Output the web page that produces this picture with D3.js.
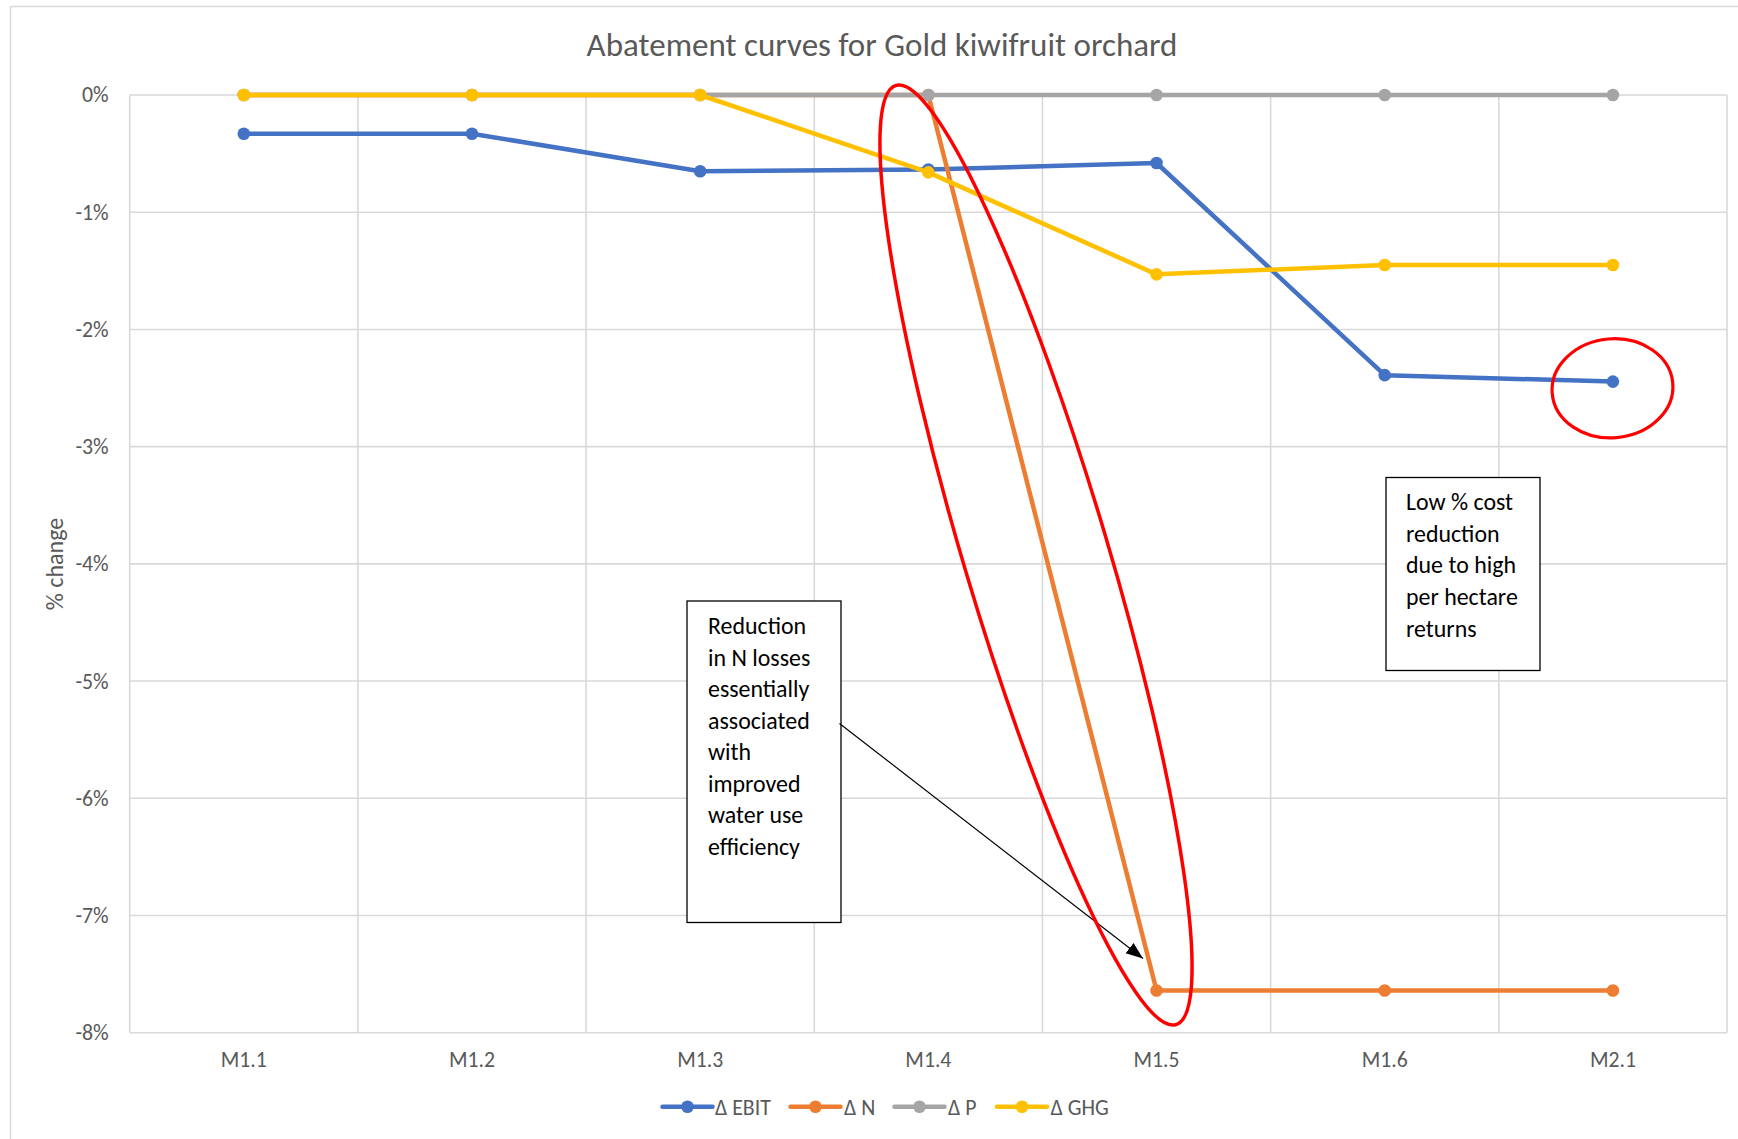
<!DOCTYPE html>
<html><head><meta charset="utf-8">
<script src="https://cdn.jsdelivr.net/npm/d3@7/dist/d3.min.js"></script>
<style>body{margin:0;background:#fff}svg{display:block}</style>
</head><body>
<svg id="chart" width="1738" height="1139"></svg>
<script>
// ---------- data ----------
const categories = ["M1.1", "M1.2", "M1.3", "M1.4", "M1.5", "M1.6", "M2.1"];
const ebitValues = [-0.33, -0.33, -0.65, -0.635, -0.58, -2.39, -2.445];
const nValues    = [0, 0, 0, 0, -7.64, -7.64, -7.64];
const pValues    = [0, 0, 0, 0, 0, 0, 0];
const ghgValues  = [0, 0, 0, -0.66, -1.53, -1.45, -1.45];
const yTickValues = [0, -1, -2, -3, -4, -5, -6, -7, -8];
const yTickLabels = ["0%", "-1%", "-2%", "-3%", "-4%", "-5%", "-6%", "-7%", "-8%"];
const seriesNames = ["\u0394 EBIT", "\u0394 N", "\u0394 P", "\u0394 GHG"];
const seriesColors = ["#4472C4", "#ED7D31", "#A5A5A5", "#FFC000"];
const titleText = "Abatement curves for Gold kiwifruit orchard";
const yAxisTitle = "% change";
const noteLeft = ["Reduction", "in N losses", "essentially", "associated", "with", "improved", "water use", "efficiency"];
const noteRight = ["Low % cost", "reduction", "due to high", "per hectare", "returns"];

const series = [ebitValues, nValues, pValues, ghgValues].map((v, i) => ({
  name: seriesNames[i], color: seriesColors[i],
  values: v.map((d, j) => ({cat: categories[j], v: d}))
}));

// ---------- layout ----------
const FONT = "Carlito, Lato, 'Open Sans', sans-serif";
const svg = d3.select("#chart");
const plot = {left: 129.7, right: 1727, top: 95, bottom: 1032.7};

const x = d3.scaleBand().domain(categories).range([plot.left, plot.right]).paddingInner(0).paddingOuter(0);
const y = d3.scaleLinear().domain([-8, 0]).range([plot.bottom, plot.top]);
const cx = c => x(c) + x.bandwidth() / 2;

// chart area border
svg.append("rect").attr("x", 10.5).attr("y", 6.5).attr("width", 1800).attr("height", 1200)
  .attr("fill", "#fff").attr("stroke", "#D9D9D9").attr("stroke-width", 1.5);

// title
svg.append("text").attr("x", 882).attr("y", 56)
  .attr("text-anchor", "middle").attr("font-family", FONT).attr("font-size", 33)
  .attr("fill", "#595959").text(titleText);

// horizontal gridlines
svg.append("g").selectAll("line").data(yTickValues).join("line")
  .attr("x1", plot.left).attr("x2", plot.right)
  .attr("y1", d => y(d)).attr("y2", d => y(d))
  .attr("stroke", "#D9D9D9").attr("stroke-width", 1.6);

// vertical gridlines at category boundaries
const bounds = categories.map(c => x(c)).concat([x(categories[categories.length - 1]) + x.bandwidth()]);
svg.append("g").selectAll("line").data(bounds).join("line")
  .attr("x1", d => d).attr("x2", d => d)
  .attr("y1", plot.top).attr("y2", plot.bottom)
  .attr("stroke", "#D9D9D9").attr("stroke-width", 1.6);

// y axis labels
const yAxis = d3.axisLeft(y).tickValues(yTickValues)
  .tickFormat((d, i) => yTickLabels[i]).tickSize(0).tickPadding(21);
const gy = svg.append("g").attr("transform", `translate(${plot.left},0)`).call(yAxis);
gy.select(".domain").remove();
gy.selectAll("text").attr("font-family", FONT).attr("font-size", 21.8).attr("fill", "#595959");

// x axis labels
const xAxis = d3.axisBottom(x).tickSize(0).tickPadding(19);
const gx = svg.append("g").attr("transform", `translate(0,${plot.bottom})`).call(xAxis);
gx.select(".domain").remove();
gx.selectAll("text").attr("font-family", FONT).attr("font-size", 21.7).attr("fill", "#595959");

// y axis title
svg.append("text").attr("transform", "translate(63,564) rotate(-90)")
  .attr("text-anchor", "middle").attr("font-family", FONT).attr("font-size", 24)
  .attr("fill", "#595959").text(yAxisTitle);

// series
const line = d3.line().x(d => cx(d.cat)).y(d => y(d.v));
series.forEach(s => {
  const g = svg.append("g");
  g.append("path").datum(s.values).attr("d", line)
    .attr("fill", "none").attr("stroke", s.color).attr("stroke-width", 4.5)
    .attr("stroke-linejoin", "round").attr("stroke-linecap", "round");
  g.selectAll("circle").data(s.values).join("circle")
    .attr("cx", d => cx(d.cat)).attr("cy", d => y(d.v)).attr("r", 6.3)
    .attr("fill", s.color);
});

// legend
const legendItems = [
  {lx: 662.5, tx: 715},
  {lx: 790.5, tx: 844},
  {lx: 894.5, tx: 948},
  {lx: 997, tx: 1050.5}
];
const lg = svg.append("g");
series.forEach((s, i) => {
  const it = legendItems[i];
  lg.append("line").attr("x1", it.lx).attr("x2", it.lx + 50).attr("y1", 1106.7).attr("y2", 1106.7)
    .attr("stroke", s.color).attr("stroke-width", 4.5).attr("stroke-linecap", "round");
  lg.append("circle").attr("cx", it.lx + 25).attr("cy", 1106.7).attr("r", 6.3).attr("fill", s.color);
  lg.append("text").attr("x", it.tx).attr("y", 1114.5).attr("font-family", FONT).attr("font-size", 21.8)
    .attr("fill", "#595959").text(s.name);
});

// ---------- annotations ----------
const ann = svg.append("g");
// left text box
ann.append("rect").attr("x", 687).attr("y", 601).attr("width", 154).attr("height", 321.5)
  .attr("fill", "#fff").attr("stroke", "#000").attr("stroke-width", 1.3);
ann.append("g").selectAll("text").data(noteLeft).join("text")
  .attr("x", 708).attr("y", (d, i) => 634.3 + i * 31.5)
  .attr("font-family", FONT).attr("font-size", 23.9).attr("fill", "#000").text(d => d);

// right text box
ann.append("rect").attr("x", 1386).attr("y", 477.5).attr("width", 154).attr("height", 193)
  .attr("fill", "#fff").attr("stroke", "#000").attr("stroke-width", 1.3);
ann.append("g").selectAll("text").data(noteRight).join("text")
  .attr("x", 1406).attr("y", (d, i) => 510 + i * 31.67)
  .attr("font-family", FONT).attr("font-size", 23.9).attr("fill", "#000").text(d => d);

// arrow
const defs = svg.append("defs");
defs.append("marker").attr("id", "ah").attr("markerUnits", "userSpaceOnUse")
  .attr("markerWidth", 20).attr("markerHeight", 16).attr("refX", 17).attr("refY", 6.5)
  .attr("orient", "auto")
  .append("path").attr("d", "M0,0 L17,6.5 L0,13 Z").attr("fill", "#000");
ann.append("line").attr("x1", 839.5).attr("y1", 723.5).attr("x2", 1143).attr("y2", 958.5)
  .attr("stroke", "#000").attr("stroke-width", 1.2).attr("marker-end", "url(#ah)");

// red ellipses
ann.append("ellipse").attr("cx", 0).attr("cy", 0).attr("rx", 72).attr("ry", 490)
  .attr("transform", "translate(1036,555) rotate(-16.6)")
  .attr("fill", "none").attr("stroke", "#FF0000").attr("stroke-width", 3.5);
ann.append("ellipse").attr("cx", 0).attr("cy", 0).attr("rx", 60.5).attr("ry", 49.5)
  .attr("transform", "translate(1612.5,388.3) rotate(-5)")
  .attr("fill", "none").attr("stroke", "#FF0000").attr("stroke-width", 3.2);
</script>
</body></html>
